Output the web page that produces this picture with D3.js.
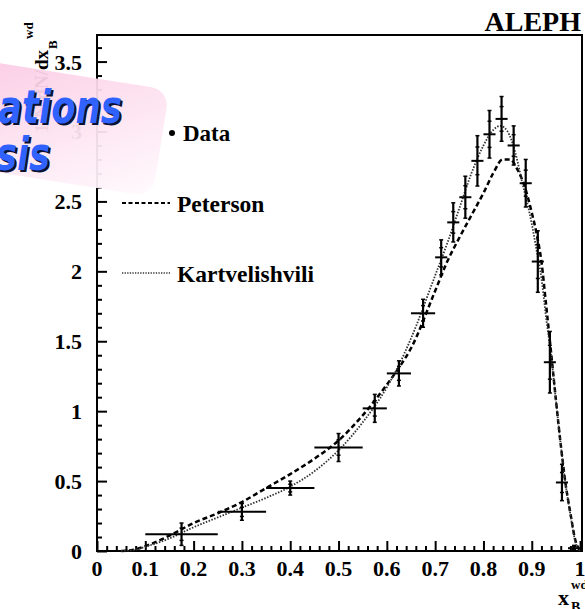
<!DOCTYPE html>
<html>
<head>
<meta charset="utf-8">
<script src="https://cdn.jsdelivr.net/npm/d3@7"></script>
<style>
    body { margin: 0; background: #fff; }
    svg { display: block; }
    .tick-label, .legend-text, .title-text { font-family: "Liberation Serif", "DejaVu Serif", serif; font-weight: bold; fill: #000; }
    .mark-text { font-family: "DejaVu Sans", sans-serif; font-weight: bold; font-style: italic; }
</style>
</head>
<body>
<svg id="chart"></svg>
<script>
// measured points: bin centre, bin edges, value, error
const binCenter = [0.175, 0.3, 0.4, 0.5, 0.575, 0.625, 0.675, 0.7125, 0.7375, 0.7625, 0.7875, 0.8125, 0.8375, 0.8625, 0.8875, 0.9125, 0.9375, 0.9625, 0.9875];
const binLow    = [0.1, 0.25, 0.35, 0.45, 0.55, 0.6, 0.65, 0.7, 0.725, 0.75, 0.775, 0.8, 0.825, 0.85, 0.875, 0.9, 0.925, 0.95, 0.975];
const binHigh   = [0.25, 0.35, 0.45, 0.55, 0.6, 0.65, 0.7, 0.725, 0.75, 0.775, 0.8, 0.825, 0.85, 0.875, 0.9, 0.925, 0.95, 0.975, 1.0];
const dataY     = [0.12, 0.28, 0.45, 0.74, 1.02, 1.27, 1.70, 2.10, 2.35, 2.53, 2.79, 2.98, 3.09, 2.90, 2.63, 2.07, 1.35, 0.49, 0.02];
const dataErr   = [0.08, 0.06, 0.05, 0.10, 0.10, 0.09, 0.10, 0.125, 0.14, 0.15, 0.18, 0.17, 0.16, 0.14, 0.17, 0.22, 0.22, 0.13, 0.02];

// fitted curves
const petersonX = [0.05, 0.07, 0.1, 0.15, 0.2, 0.25, 0.3, 0.35, 0.4, 0.45, 0.5, 0.55, 0.6, 0.625, 0.65, 0.7, 0.725, 0.75, 0.775, 0.8, 0.82, 0.84, 0.855, 0.87, 0.885, 0.9, 0.91, 0.92, 0.93, 0.94, 0.95, 0.96, 0.97, 0.98, 0.99, 1.0];
const petersonY = [0, 0.005, 0.035, 0.11, 0.2, 0.27, 0.35, 0.45, 0.55, 0.66, 0.79, 0.97, 1.19, 1.31, 1.45, 1.86, 2.07, 2.24, 2.40, 2.56, 2.70, 2.80, 2.80, 2.73, 2.61, 2.42, 2.27, 2.07, 1.75, 1.42, 1.08, 0.76, 0.48, 0.27, 0.08, 0];
const kartX = [0.05, 0.08, 0.1, 0.15, 0.2, 0.25, 0.3, 0.35, 0.4, 0.45, 0.5, 0.55, 0.6, 0.625, 0.65, 0.7, 0.725, 0.75, 0.775, 0.8, 0.82, 0.835, 0.85, 0.865, 0.88, 0.9, 0.91, 0.92, 0.93, 0.94, 0.95, 0.96, 0.97, 0.98, 0.99, 1.0];
const kartY = [0, 0.01, 0.03, 0.09, 0.17, 0.24, 0.31, 0.38, 0.46, 0.57, 0.72, 0.92, 1.17, 1.33, 1.52, 1.97, 2.2, 2.45, 2.7, 2.9, 3.01, 3.04, 3.0, 2.86, 2.64, 2.34, 2.15, 1.95, 1.66, 1.40, 1.08, 0.76, 0.48, 0.26, 0.07, 0];

const xMajor = d3.range(0, 1.0001, 0.1);
const yMajor = d3.range(0, 3.5001, 0.5);
const legendItems = [
    {label: "Data", kind: "dot"},
    {label: "Peterson", kind: "dash"},
    {label: "Kartvelishvili", kind: "dot-line"}
];

const width = 585, height = 609;
const frame = {left: 97, right: 582, top: 35, bottom: 551};

const svg = d3.select("#chart").attr("width", width).attr("height", height);

const xScale = d3.scaleLinear().domain([0, 1.004]).range([frame.left, frame.right]);
const yScale = d3.scaleLinear().domain([0, 3.69]).range([frame.bottom, frame.top]);

// frame
svg.append("rect")
    .attr("x", frame.left).attr("y", frame.top)
    .attr("width", frame.right - frame.left).attr("height", frame.bottom - frame.top)
    .attr("fill", "none").attr("stroke", "#000").attr("stroke-width", 2);

// x axis: major every 0.1, minor every 0.02, ticks pointing inward
svg.append("g")
    .attr("transform", `translate(0,${frame.bottom})`)
    .call(d3.axisTop(xScale).tickValues(xMajor).tickSize(10).tickFormat(""))
    .call(g => g.select(".domain").remove())
    .call(g => g.selectAll("line").attr("stroke-width", 2));

const xMinor = d3.range(0, 1.0001, 0.02).filter(v => Math.abs(v * 10 - Math.round(v * 10)) > 1e-6);
svg.append("g")
    .attr("transform", `translate(0,${frame.bottom})`)
    .call(d3.axisTop(xScale).tickValues(xMinor).tickSize(5).tickFormat(""))
    .call(g => g.select(".domain").remove())
    .call(g => g.selectAll("line").attr("stroke-width", 2));

svg.append("g").selectAll("text")
    .data(xMajor)
    .join("text")
    .attr("class", "tick-label")
    .attr("x", d => xScale(d))
    .attr("y", 576)
    .attr("text-anchor", "middle")
    .style("font-size", "22px")
    .text(d => d === 0 ? "0" : d >= 0.999 ? "1" : d3.format(".1f")(d));

// y axis: major every 0.5, minor every 0.1
svg.append("g")
    .attr("transform", `translate(${frame.left},0)`)
    .call(d3.axisRight(yScale).tickValues(yMajor).tickSize(10).tickFormat(""))
    .call(g => g.select(".domain").remove())
    .call(g => g.selectAll("line").attr("stroke-width", 2));

const yMinor = d3.range(0, 3.61, 0.1).filter(v => Math.abs(v * 2 - Math.round(v * 2)) > 1e-6);
svg.append("g")
    .attr("transform", `translate(${frame.left},0)`)
    .call(d3.axisRight(yScale).tickValues(yMinor).tickSize(5).tickFormat(""))
    .call(g => g.select(".domain").remove())
    .call(g => g.selectAll("line").attr("stroke-width", 2));

svg.append("g").selectAll("text")
    .data(yMajor)
    .join("text")
    .attr("class", "tick-label")
    .attr("x", 82)
    .attr("y", d => yScale(d) + 8)
    .attr("text-anchor", "end")
    .style("font-size", "22px")
    .text(d => d === 0 ? "0" : d3.format("~g")(d));

// curves
const curveLine = d3.line()
    .x(d => xScale(d[0]))
    .y(d => yScale(d[1]))
    .curve(d3.curveMonotoneX);

const plot = svg.append("g");

plot.append("path")
    .attr("d", curveLine(petersonX.map((x, i) => [x, petersonY[i]])))
    .attr("fill", "none")
    .attr("stroke", "#000")
    .attr("stroke-width", 2.5)
    .attr("stroke-dasharray", "5 3");

plot.append("path")
    .attr("d", curveLine(kartX.map((x, i) => [x, kartY[i]])))
    .attr("fill", "none")
    .attr("stroke", "#333")
    .attr("stroke-width", 1.8)
    .attr("stroke-dasharray", "1.5 1.5");

// data points with error bars
const points = binCenter.map((c, i) => ({c: c, lo: binLow[i], hi: binHigh[i], y: dataY[i], e: dataErr[i]}));

const pts = plot.selectAll(".point")
    .data(points)
    .join("g")
    .attr("class", "point");

pts.append("line")
    .attr("x1", d => xScale(d.lo)).attr("x2", d => xScale(d.hi))
    .attr("y1", d => yScale(d.y)).attr("y2", d => yScale(d.y))
    .attr("stroke", "#000").attr("stroke-width", 2);

pts.append("line")
    .attr("x1", d => xScale(d.c)).attr("x2", d => xScale(d.c))
    .attr("y1", d => yScale(Math.max(0, d.y - d.e))).attr("y2", d => yScale(d.y + d.e))
    .attr("stroke", "#000").attr("stroke-width", 2.2);

// small caps at the ends and at the inner (stat) error
[1, -1, 0.55, -0.55].forEach(f => {
    pts.append("line")
        .attr("x1", d => xScale(d.c) - 2).attr("x2", d => xScale(d.c) + 2)
        .attr("y1", d => yScale(Math.max(0, d.y + f * d.e)))
        .attr("y2", d => yScale(Math.max(0, d.y + f * d.e)))
        .attr("stroke", "#000").attr("stroke-width", 1.5);
});

// legend
const legend = svg.append("g");
const legendRowY = [133, 203, 273];

legendItems.forEach((item, i) => {
    const y = legendRowY[i];
    if (item.kind === "dot") {
        legend.append("circle").attr("cx", 172).attr("cy", y).attr("r", 3).attr("fill", "#000");
        legend.append("text")
            .attr("class", "legend-text")
            .attr("x", 183).attr("y", y + 8)
            .style("font-size", "23px")
            .text(item.label);
    } else {
        legend.append("line")
            .attr("x1", 122).attr("x2", 170)
            .attr("y1", y).attr("y2", y)
            .attr("stroke", item.kind === "dash" ? "#000" : "#333")
            .attr("stroke-width", item.kind === "dash" ? 2 : 1.6)
            .attr("stroke-dasharray", item.kind === "dash" ? "4 2.5" : "1.3 1.3");
        legend.append("text")
            .attr("class", "legend-text")
            .attr("x", 177).attr("y", y + 9)
            .style("font-size", "23.5px")
            .text(item.label);
    }
});

// experiment label
svg.append("text")
    .attr("class", "title-text")
    .attr("x", 581).attr("y", 31)
    .attr("text-anchor", "end")
    .style("font-size", "28px")
    .text("ALEPH");

// y axis title (rotated)
const yTitle = svg.append("g").attr("transform", "translate(48,50) rotate(-90)");
yTitle.append("text")
    .attr("class", "title-text")
    .attr("text-anchor", "end")
    .style("font-size", "19px")
    .text("1/N dN/dx");
yTitle.append("text")
    .attr("class", "title-text")
    .attr("x", 1).attr("y", 9)
    .style("font-size", "13px")
    .text("B");
yTitle.append("text")
    .attr("class", "title-text")
    .attr("x", 11).attr("y", -15)
    .style("font-size", "13px")
    .text("wd");

// x axis title
svg.append("text")
    .attr("class", "title-text")
    .attr("x", 558).attr("y", 605)
    .style("font-size", "22px")
    .text("x");
svg.append("text")
    .attr("class", "title-text")
    .attr("x", 571).attr("y", 612)
    .style("font-size", "14px")
    .text("B");
svg.append("text")
    .attr("class", "title-text")
    .attr("x", 571).attr("y", 589)
    .style("font-size", "13px")
    .text("wd");

// overlay tag from the slide the plot was taken from
const defs = svg.append("defs");
const grad = defs.append("linearGradient")
    .attr("id", "tagGrad")
    .attr("x1", "0%").attr("y1", "0%").attr("x2", "100%").attr("y2", "100%");
grad.append("stop").attr("offset", "0%").attr("stop-color", "#fbc8e3");
grad.append("stop").attr("offset", "55%").attr("stop-color", "#fde4f1");
grad.append("stop").attr("offset", "100%").attr("stop-color", "#fffafd");

const tag = svg.append("g");
tag.append("g")
    .attr("transform", "translate(-40,57) rotate(9)")
    .append("rect")
    .attr("width", 212).attr("height", 108).attr("rx", 18)
    .attr("fill", "url(#tagGrad)")
    .attr("opacity", 0.94);

const tagLines = [{text: "ations", x: -2, y: 123, len: 124}, {text: "sis", x: -4, y: 170, len: 54}];
tagLines.forEach(t => {
    tag.append("text")
        .attr("class", "mark-text")
        .attr("x", t.x + 2).attr("y", t.y + 2)
        .attr("textLength", t.len).attr("lengthAdjust", "spacingAndGlyphs")
        .style("font-size", "46px")
        .attr("fill", "#0a1030")
        .text(t.text);
    tag.append("text")
        .attr("class", "mark-text")
        .attr("x", t.x).attr("y", t.y)
        .attr("textLength", t.len).attr("lengthAdjust", "spacingAndGlyphs")
        .style("font-size", "46px")
        .attr("fill", "#2f62ff")
        .text(t.text);
});
</script>
</body>
</html>
